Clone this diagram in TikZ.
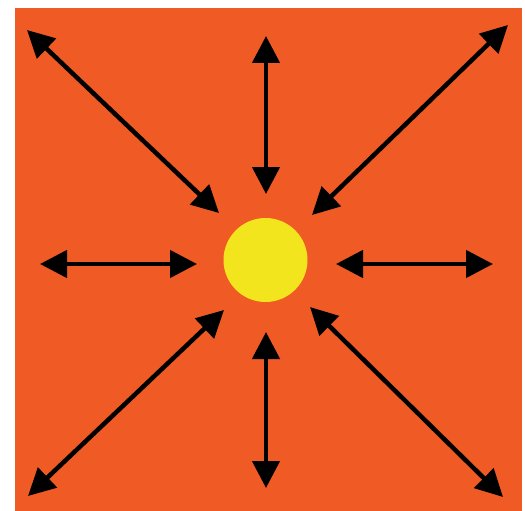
\documentclass[tikz,border=0pt]{standalone}
\usetikzlibrary{arrows.meta}
\definecolor{bgorange}{HTML}{F05A24}
\definecolor{sunyellow}{HTML}{F2E51E}
\begin{document}
\begin{tikzpicture}[x=1pt,y=-1pt,
  twoway/.style={line width=4.5pt,
    {Triangle[length=27pt,width=27pt]}-{Triangle[length=27pt,width=27pt]}}]
\useasboundingbox (0,0) rectangle (525,511);
\fill[bgorange] (15,8) rectangle (522,511);
\node[circle,fill=sunyellow,minimum size=84pt,inner sep=0pt] (sun) at (265.5,260) {};
% outer ends
\coordinate (tlA) at (27,30);   \coordinate (tlB) at (219,213);
\coordinate (tA) at (266,36);   \coordinate (tB) at (266,194);
\coordinate (trA) at (508,25);  \coordinate (trB) at (312,215);
\coordinate (lA) at (40,264);   \coordinate (lB) at (197,264);
\coordinate (rA) at (336,264);  \coordinate (rB) at (493,264);
\coordinate (blA) at (28,496);  \coordinate (blB) at (224,310);
\coordinate (bA) at (266,332);  \coordinate (bB) at (266,488);
\coordinate (brA) at (503,497); \coordinate (brB) at (310,307);
\draw[twoway] (tlA) -- (tlB);
\draw[twoway] (tA) -- (tB);
\draw[twoway] (trA) -- (trB);
\draw[twoway] (lA) -- (lB);
\draw[twoway] (rA) -- (rB);
\draw[twoway] (blA) -- (blB);
\draw[twoway] (bA) -- (bB);
\draw[twoway] (brA) -- (brB);
\end{tikzpicture}
\end{document}
